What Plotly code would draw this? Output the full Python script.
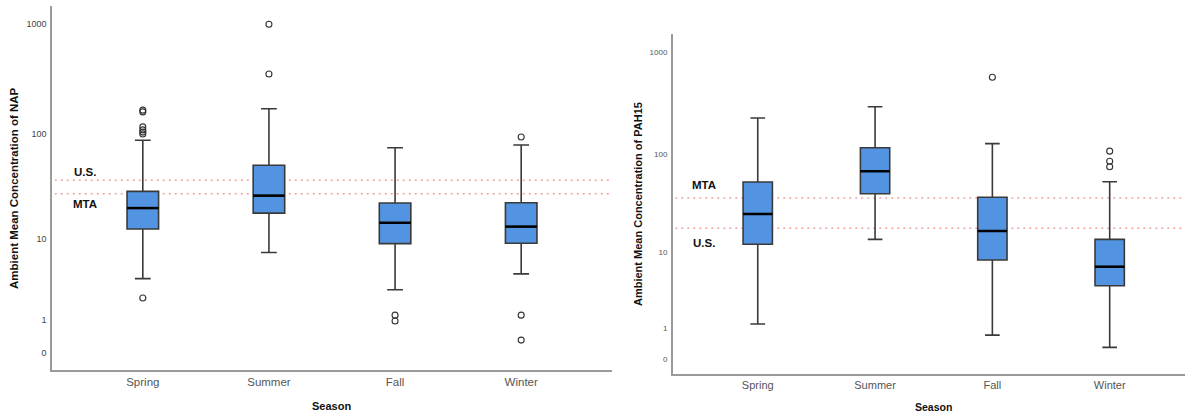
import numpy as np
import plotly.graph_objects as go

seasons = ["Spring", "Summer", "Fall", "Winter"]

# NAP (left panel) box statistics
nap_low = [3.8, 7.3, 2.8, 4.3]
nap_q1 = [12.6, 18.0, 9.0, 9.1]
nap_med = [20.1, 26.4, 14.5, 13.3]
nap_q3 = [29.0, 50.8, 22.5, 22.6]
nap_high = [86.6, 169.0, 74.0, 78.4]
nap_out_season = [0, 0, 0, 0, 0, 0, 0, 1, 1, 2, 2, 3, 3, 3]
nap_out_value = [164, 158, 115, 108, 103, 99, 2.2, 1000, 351, 1.23, 0.97, 93, 1.23, 0.32]
nap_us = 36.8
nap_mta = 27.5

# PAH15 (right panel) box statistics
pah_low = [1.2, 13.8, 0.71, 0.30]
pah_q1 = [12.25, 40.4, 8.3, 4.2]
pah_med = [25.2, 67.6, 16.9, 7.0]
pah_q3 = [52.9, 115.8, 37.2, 13.8]
pah_high = [227.0, 293.0, 127.0, 53.3]
pah_out_season = [2, 3, 3, 3]
pah_out_value = [570, 107, 85, 75]
pah_mta = 36.6
pah_us = 18.0

tick_values = [1000, 100, 10, 1, 0]


def tr(v):
    return np.log10(np.asarray(v, dtype=float) + 1.0)


BOX_W = 0.25
FILL = "#5294E2"
EDGE = "#3a3a3a"
AXIS_COL = "#9a9a9a"
FONT = "Liberation Sans, Arial, sans-serif"

fig = go.Figure()


def add_panel(xa, ya, low, q1, med, q3, high, out_s, out_v):
    xs = list(range(len(seasons)))
    fig.add_trace(go.Box(
        x=xs, q1=tr(q1), median=tr(med), q3=tr(q3),
        lowerfence=tr(low), upperfence=tr(high),
        width=BOX_W, whiskerwidth=0.5,
        fillcolor=FILL, line=dict(color=EDGE, width=1.6),
        boxpoints=False, showlegend=False, hoverinfo="skip",
        xaxis=xa, yaxis=ya,
    ))
    mx, my = [], []
    for i, m in enumerate(med):
        mx += [i - BOX_W / 2, i + BOX_W / 2, None]
        my += [float(tr(m)), float(tr(m)), None]
    fig.add_trace(go.Scatter(
        x=mx, y=my, mode="lines", line=dict(color="#000000", width=2.5),
        showlegend=False, hoverinfo="skip", xaxis=xa, yaxis=ya,
    ))
    fig.add_trace(go.Scatter(
        x=out_s, y=tr(out_v), mode="markers",
        marker=dict(symbol="circle-open", size=6, color="#333333",
                    line=dict(width=1.1, color="#333333")),
        showlegend=False, hoverinfo="skip", xaxis=xa, yaxis=ya,
    ))


add_panel("x", "y", nap_low, nap_q1, nap_med, nap_q3, nap_high, nap_out_season, nap_out_value)
add_panel("x2", "y2", pah_low, pah_q1, pah_med, pah_q3, pah_high, pah_out_season, pah_out_value)

line_style = dict(color="#F4A0A0", width=1.6, dash="2px,4px")
for xref, yref, v in [("x domain", "y", nap_us), ("x domain", "y", nap_mta),
                      ("x2 domain", "y2", pah_mta), ("x2 domain", "y2", pah_us)]:
    fig.add_shape(type="line", xref=xref, yref=yref, x0=0.005, x1=0.995,
                  y0=float(tr(v)), y1=float(tr(v)), line=line_style, layer="below")

lab_font = dict(family=FONT, size=11.5, color="#111111")
ann = [
    dict(text="<b>U.S.</b>", x=-0.46, y=1.653, xref="x", yref="y"),
    dict(text="<b>MTA</b>", x=-0.46, y=1.362, xref="x", yref="y"),
    dict(text="<b>MTA</b>", x=-0.46, y=1.70, xref="x2", yref="y2"),
    dict(text="<b>U.S.</b>", x=-0.46, y=1.135, xref="x2", yref="y2"),
]
for a in ann:
    fig.add_annotation(showarrow=False, font=lab_font, **a)

title_font = dict(family=FONT, size=11.5, color="#111111")
fig.add_annotation(text="<b>Ambient Mean Concentration of NAP</b>", textangle=-90,
                   x=14 / 1185, y=1 - 188 / 415, xref="paper", yref="paper",
                   xanchor="center", yanchor="middle",
                   showarrow=False, font=title_font)
fig.add_annotation(text="<b>Ambient Mean Concentration of PAH15</b>", textangle=-90,
                   x=638 / 1185, y=1 - 204 / 415, xref="paper", yref="paper",
                   xanchor="center", yanchor="middle",
                   showarrow=False, font=dict(family=FONT, size=11, color="#111111"))
fig.add_annotation(text="<b>Season</b>", x=332 / 1185, y=1 - 406 / 415,
                   xref="paper", yref="paper", xanchor="center", yanchor="middle",
                   showarrow=False, font=dict(family=FONT, size=11, color="#111111"))
fig.add_annotation(text="<b>Season</b>", x=933 / 1185, y=1 - 407 / 415,
                   xref="paper", yref="paper", xanchor="center", yanchor="middle",
                   showarrow=False, font=dict(family=FONT, size=10.5, color="#111111"))

xcommon = dict(tickmode="array", tickvals=list(range(len(seasons))), ticktext=seasons,
               showline=True, linecolor=AXIS_COL, linewidth=1.5, showgrid=False,
               zeroline=False, ticks="", ticklabelstandoff=0)
ycommon = dict(tickmode="array", tickvals=list(tr(tick_values)),
               ticktext=[str(t) for t in tick_values],
               showline=True, linecolor=AXIS_COL, linewidth=1.5, showgrid=False,
               zeroline=False, ticks="", ticklabelstandoff=2)

fig.update_layout(
    width=1185, height=415,
    margin=dict(l=0, r=0, t=0, b=0),
    paper_bgcolor="white", plot_bgcolor="white",
    font=dict(family=FONT),
    xaxis=dict(domain=[52 / 1185, 612 / 1185], range=[-0.72, 3.72], anchor="y",
               tickfont=dict(family=FONT, size=11.5, color="#555555"), **xcommon),
    yaxis=dict(domain=[1 - 370 / 415, 1 - 6 / 415], range=[-0.152, 3.167], anchor="x",
               tickfont=dict(family=FONT, size=9, color="#444444"), **ycommon),
    xaxis2=dict(domain=[672.7 / 1185, 1.0], range=[-0.725, 3.642], anchor="y2",
                tickfont=dict(family=FONT, size=11, color="#555555"), **xcommon),
    yaxis2=dict(domain=[1 - 374 / 415, 1 - 34 / 415], range=[-0.147, 3.18], anchor="x2",
                tickfont=dict(family=FONT, size=8, color="#555555"), **ycommon),
)

fig.write_html("out.html", config={"displayModeBar": False},
               post_script="document.body.style.margin='0';"
               "document.body.style.overflow='hidden';")
